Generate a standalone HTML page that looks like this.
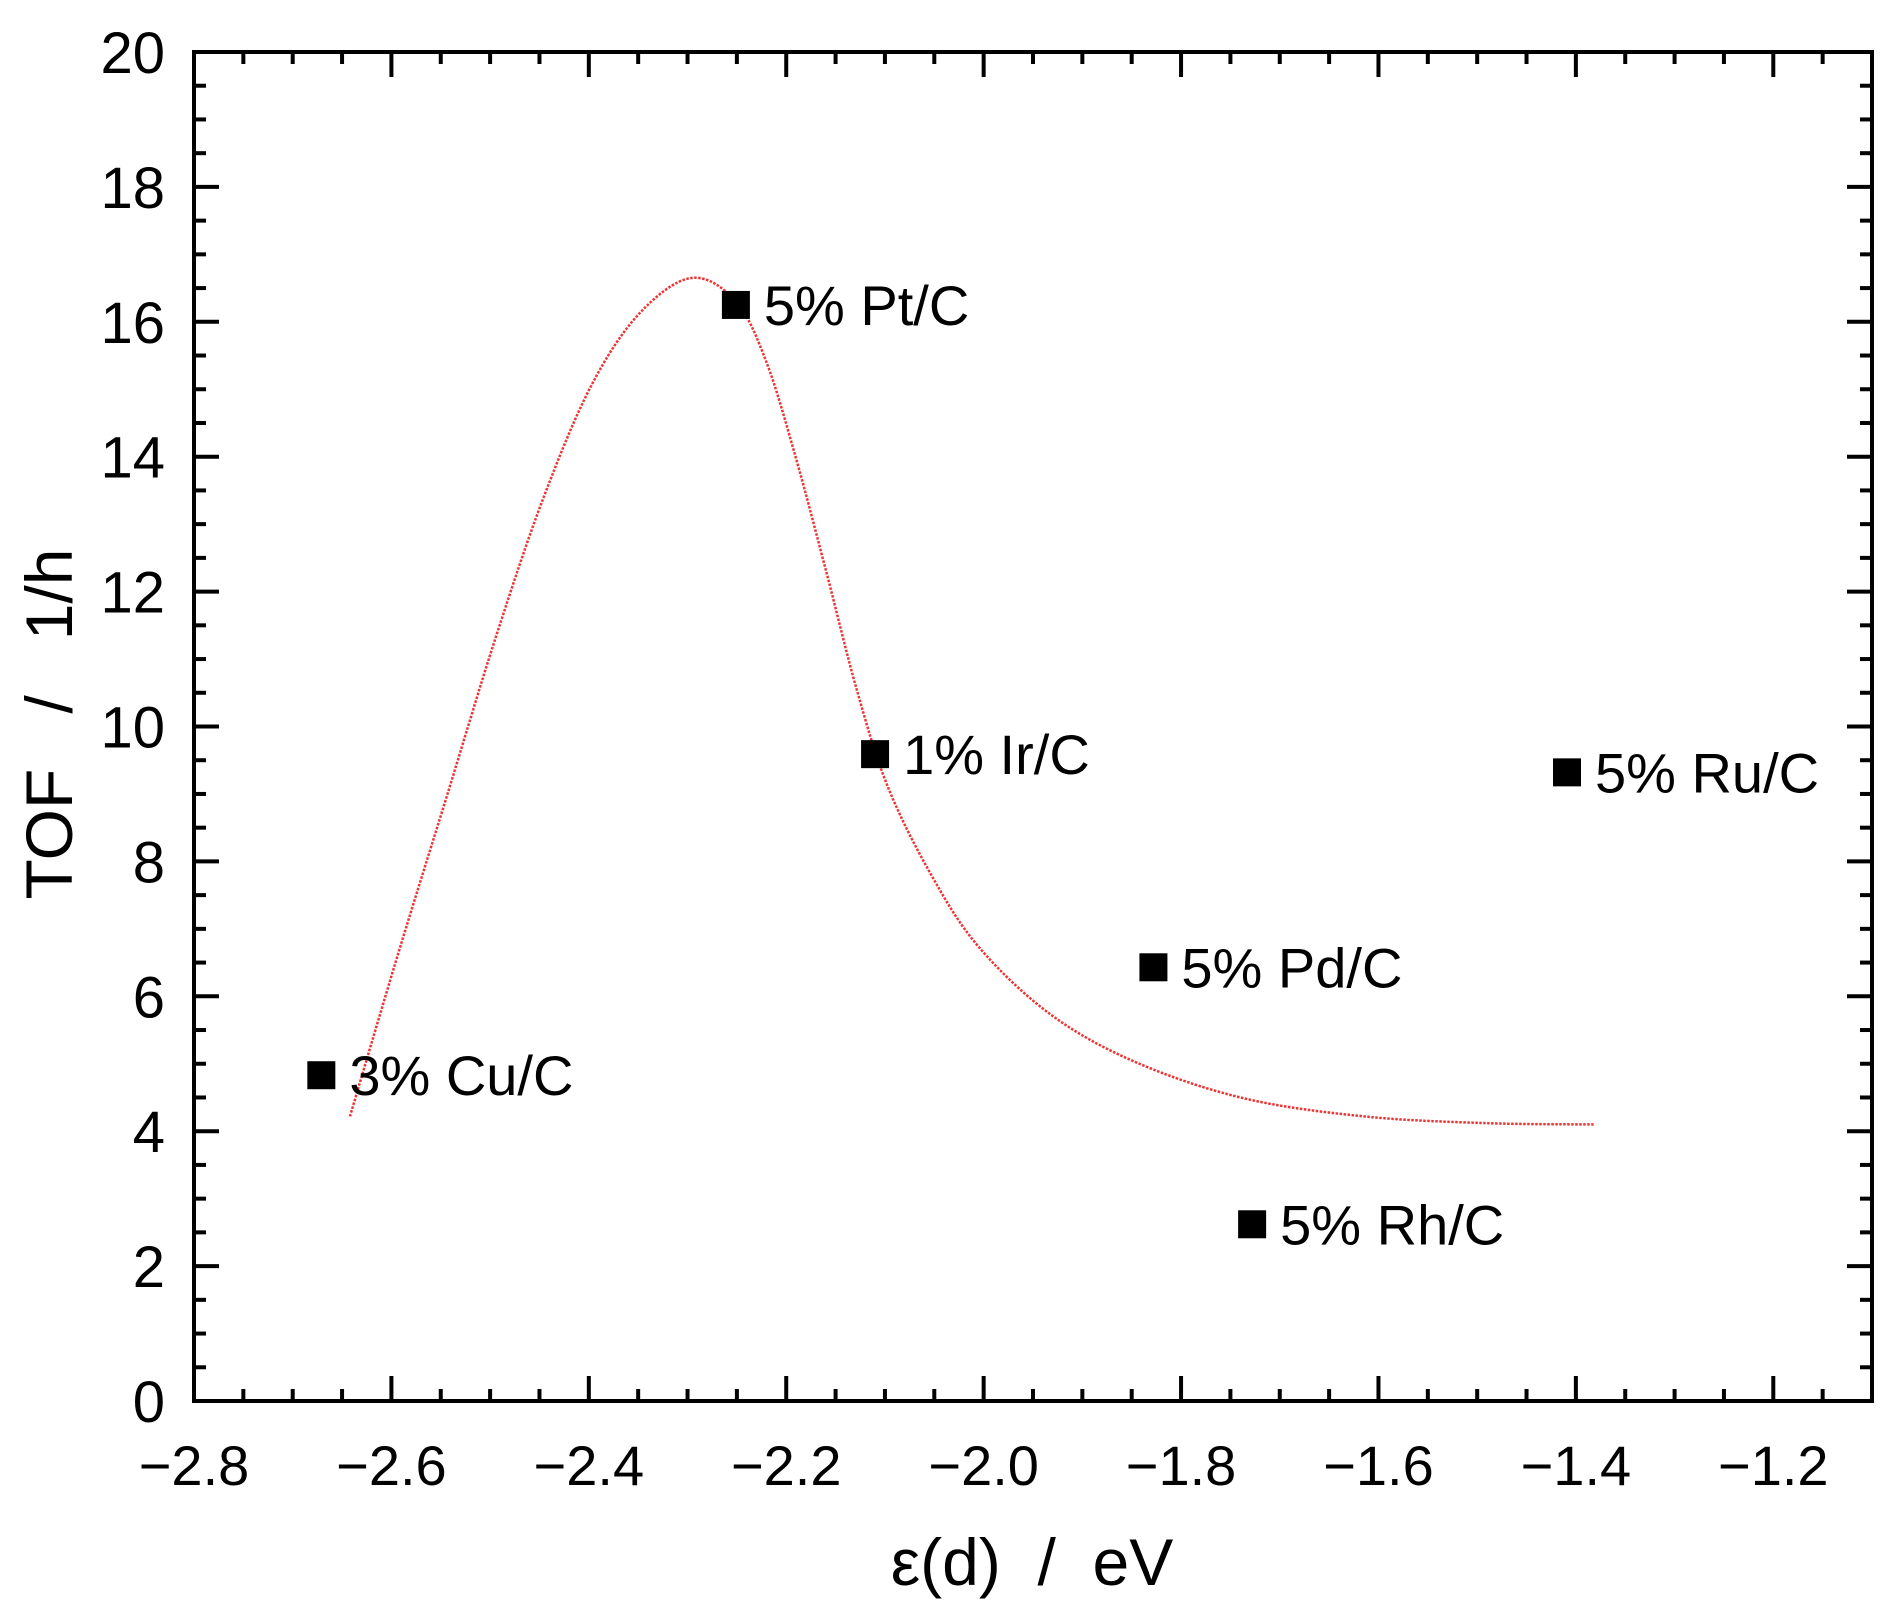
<!DOCTYPE html>
<html><head><meta charset="utf-8"><style>
html,body{margin:0;padding:0;background:#fff;}
svg{display:block;font-family:"Liberation Sans",Arial,sans-serif;}
</style></head><body>
<svg id="chart" width="1892" height="1616" viewBox="0 0 1892 1616"></svg>
<script>
const catLabels = ["3% Cu/C","5% Pt/C","1% Ir/C","5% Ru/C","5% Pd/C","5% Rh/C"];
const catX = [-2.671,-2.251,-2.110,-1.409,-1.828,-1.728];
const catY = [4.83,16.25,9.59,9.32,6.43,2.62];
const curveX = [-2.642,-2.593,-2.544,-2.495,-2.447,-2.398,-2.349,-2.296,-2.251,-2.220,-2.190,-2.159,-2.129,-2.098,-2.055,-2.006,-1.933,-1.847,-1.737,-1.615,-1.492,-1.382];
const curveY = [4.22,6.64,8.96,11.29,13.35,15.04,16.12,16.65,16.30,15.40,13.97,12.27,10.57,9.14,7.85,6.75,5.74,5.03,4.49,4.22,4.12,4.10];
const xTicks = [-2.8,-2.6,-2.4,-2.2,-2.0,-1.8,-1.6,-1.4,-1.2];
const xTickLabels = ["\u22122.8","\u22122.6","\u22122.4","\u22122.2","\u22122.0","\u22121.8","\u22121.6","\u22121.4","\u22121.2"];
const yTicks = [0,2,4,6,8,10,12,14,16,18,20];

const L=194,R=1872,T=52,B=1401,X0=-2.8,X1=-1.1,Y0=0,Y1=20;
const sx=v=>L+(v-X0)/(X1-X0)*(R-L);
const sy=v=>B-(v-Y0)/(Y1-Y0)*(B-T);
const svg=document.getElementById('chart');
const NS='http://www.w3.org/2000/svg';
function mk(tag,attrs,parent){const e=document.createElementNS(NS,tag);for(const k in attrs)e.setAttribute(k,attrs[k]);(parent||svg).appendChild(e);return e;}

const tg=mk('g',{stroke:'#000','stroke-width':4});


for(let v=-2.8;v<=-1.1+1e-9;v+=0.05){
  const maj=Math.abs(Math.round(v*5)-v*5)<1e-6;const len=maj?25:12;const x=sx(v);
  mk('line',{x1:x,y1:B,x2:x,y2:B-len},tg);mk('line',{x1:x,y1:T,x2:x,y2:T+len},tg);
}
for(let v=0;v<=20+1e-9;v+=0.5){
  const maj=Math.abs(v/2-Math.round(v/2))<1e-6;const len=maj?25:12;const y=sy(v);
  mk('line',{x1:L,y1:y,x2:L+len,y2:y},tg);mk('line',{x1:R,y1:y,x2:R-len,y2:y},tg);
}
const frame=mk('rect',{x:L,y:T,width:R-L,height:B-T,fill:'none',stroke:'#000','stroke-width':4});



xTicks.forEach((v,i)=>{const t=mk('text',{x:sx(v),y:B+84,'text-anchor':'middle','font-size':56});t.textContent=xTickLabels[i];

});
yTicks.forEach(v=>{const t=mk('text',{x:165,y:sy(v)+21,'text-anchor':'end','font-size':58});t.textContent=String(v);

});

const xt=mk('text',{x:1032,y:1585,'text-anchor':'middle','font-size':66});xt.textContent='\u03b5(d)\u00a0\u00a0/\u00a0\u00a0eV';


const yt=mk('text',{x:0,y:0,'text-anchor':'middle','font-size':66,transform:'translate(72,724) rotate(-90)'});yt.textContent='TOF\u00a0\u00a0\u00a0/\u00a0\u00a0\u00a01/h';



const pts=curveX.map((v,i)=>[sx(v),sy(curveY[i])]);
let d='M'+pts[0][0]+','+pts[0][1];
for(let i=0;i<pts.length-1;i++){const p0=pts[Math.max(0,i-1)],p1=pts[i],p2=pts[i+1],p3=pts[Math.min(pts.length-1,i+2)];
 d+=` C${p1[0]+(p2[0]-p0[0])/6},${p1[1]+(p2[1]-p0[1])/6} ${p2[0]-(p3[0]-p1[0])/6},${p2[1]-(p3[1]-p1[1])/6} ${p2[0]},${p2[1]}`;}
const curve=mk('path',{d:d,fill:'none',stroke:'#ee3333','stroke-width':2.5,'stroke-dasharray':'2.5,1.5'});



catX.forEach((v,i)=>{
  const x=sx(v),y=sy(catY[i]);
  const r=mk('rect',{x:x-14,y:y-14,width:28,height:28,fill:'#000'});
  
  
  const t=mk('text',{x:x+28,y:y+20,'font-size':56});t.textContent=catLabels[i];
  
  
});
</script>
</body></html>
